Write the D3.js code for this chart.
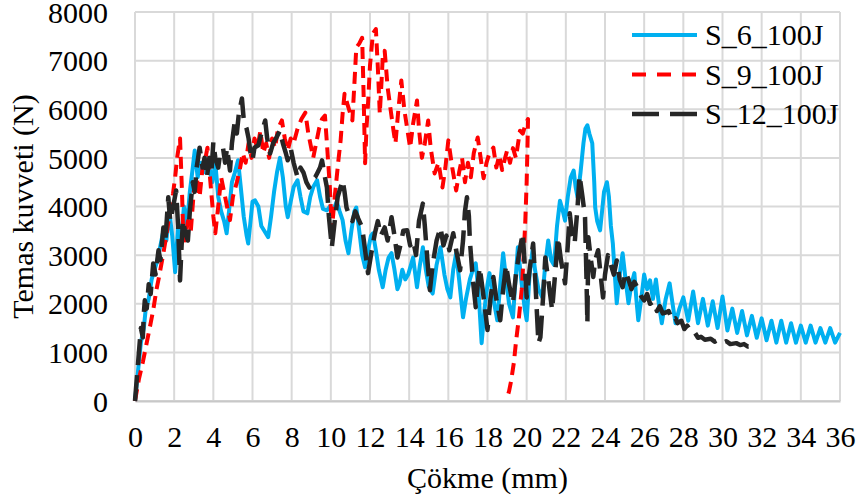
<!DOCTYPE html>
<html>
<head>
<meta charset="utf-8">
<script src="https://cdn.jsdelivr.net/npm/d3@7"></script>
<style>
  html, body { margin: 0; padding: 0; background: #fff; }
  svg { display: block; }
  text { font-family: "Liberation Serif", "Times New Roman", serif; fill: #000; }
</style>
</head>
<body>
<svg id="chart" width="859" height="503"></svg>
<script>
// Contact force vs. displacement for three specimens, 100 J impact
const seriesNames = ["S_6_100J", "S_9_100J", "S_12_100J"];
const xTicks = d3.range(0, 37, 2);
const yTicks = d3.range(0, 8001, 1000);

// [displacement (mm), force (N)]
const s6 = [
  [0,0],[0.15,600],[0.3,1200],[0.45,1500],[0.55,1900],[0.7,2100],[0.85,2500],[1.0,2700],[1.15,2900],[1.3,3200],
  [1.45,3500],[1.6,3300],[1.75,3900],[1.9,3400],[2.05,2650],[2.2,3600],[2.35,3300],[2.5,4000],[2.65,3600],[2.8,4300],
  [2.95,4800],[3.05,5150],[3.2,4600],[3.35,4900],[3.5,4700],[3.65,5000],[3.8,4800],[3.95,4500],[4.1,4900],[4.25,4200],
  [4.4,3900],[4.55,3700],[4.68,3450],[4.8,3900],[4.95,4500],[5.1,4700],[5.26,4950],[5.4,4400],[5.55,3800],[5.7,3400],
  [5.78,3240],[5.9,3700],[6.0,4100],[6.13,4125],[6.3,4000],[6.45,3600],[6.6,3500],[6.8,3370],[6.95,3800],[7.1,4300],
  [7.25,4700],[7.4,5000],[7.55,4600],[7.7,4000],[7.8,3780],[7.95,4100],[8.1,4400],[8.3,4540],[8.45,4200],[8.6,3900],
  [8.8,3860],[8.95,4200],[9.1,4400],[9.3,4540],[9.45,4200],[9.6,3950],[9.8,3920],[9.95,4000],[10.1,3900],[10.3,4100],
  [10.45,3900],[10.6,3720],[10.75,3300],[10.9,3040],[11.05,3500],[11.2,3900],[11.3,3980],[11.45,3500],[11.6,3000],[11.75,2750],
  [11.9,3100],[12.05,3400],[12.15,3450],[12.3,3100],[12.45,2700],[12.65,2340],[12.8,2700],[12.95,2950],[13.1,3040],[13.25,2700],
  [13.4,2300],[13.5,2400],[13.65,2700],[13.8,2500],[13.95,2600],[14.2,2950],[14.4,2340],[14.55,2800],[14.7,3160],[14.85,2700],
  [15.0,2350],[15.2,2210],[15.4,2800],[15.6,3160],[15.8,2600],[15.95,2300],[16.1,2130],[16.25,2700],[16.4,3040],[16.55,2500],
  [16.75,1720],[16.9,2100],[17.1,2500],[17.25,2700],[17.4,2830],[17.55,2200],[17.7,1190],[17.85,1900],[18.0,2400],[18.1,2630],
  [18.3,2100],[18.5,1660],[18.65,2400],[18.8,3040],[18.95,2500],[19.1,2000],[19.3,1720],[19.45,2600],[19.55,3160],[19.75,2400],
  [19.9,1900],[20.0,1660],[20.15,2600],[20.3,3100],[20.43,2690],[20.6,2300],[20.8,2130],[20.95,2800],[21.1,3300],[21.25,2900],
  [21.4,2800],[21.55,3600],[21.7,4120],[21.85,3900],[21.96,3710],[22.1,4200],[22.25,4600],[22.4,4740],[22.5,4400],[22.6,4190],
  [22.75,4700],[22.9,5300],[23.0,5600],[23.1,5670],[23.2,5500],[23.35,5300],[23.45,4500],[23.5,3980],[23.6,3700],[23.75,3510],
  [23.85,3900],[23.95,4300],[24.1,4500],[24.2,4200],[24.3,3600],[24.4,3240],[24.5,2600],[24.6,2010],[24.75,2600],[24.9,3040],
  [25.05,2500],[25.2,2010],[25.35,2400],[25.5,2630],[25.6,2100],[25.7,1660],[25.85,2100],[26.0,2600],[26.15,2300],[26.3,2480],
  [26.45,2100],[26.6,2500],[26.75,2000],[26.9,1600],[27.1,2100],[27.3,2420],[27.45,2000],[27.6,1600],[27.8,1900],[28.0,2130],
  [28.25,1650],[28.5,2250],[28.75,1600],[29.0,2100],[29.25,1550],[29.5,2050],[29.75,1500],[30.0,2150],[30.25,1450],[30.5,1900],
  [30.75,1400],[31.0,1850],[31.25,1350],[31.5,1750],[31.75,1300],[32.0,1700],[32.25,1250],[32.5,1650],[32.75,1200],[33.0,1650],
  [33.25,1200],[33.5,1600],[33.75,1200],[34.0,1550],[34.25,1200],[34.5,1550],[34.75,1200],[35.0,1500],[35.25,1200],[35.5,1500],
  [35.75,1200],[36.0,1400]
];

const s9 = [
  [0,0],[0.2,450],[0.4,800],[0.6,1200],[0.8,1600],[0.93,1870],[1.1,2300],[1.25,2600],[1.45,3040],[1.6,3400],
  [1.75,3800],[1.94,4260],[2.05,4600],[2.15,5000],[2.3,5400],[2.4,4300],[2.45,3600],[2.55,3300],[2.7,3700],[2.85,3500],
  [3.0,4300],[3.15,4600],[3.3,4200],[3.45,4800],[3.6,5000],[3.7,5210],[3.85,4500],[4.0,3800],[4.1,3450],[4.25,4000],
  [4.4,4600],[4.55,4300],[4.7,4000],[4.85,3720],[5.0,4200],[5.2,4500],[5.36,4780],[5.5,5100],[5.65,4900],[5.8,5300],
  [5.95,5000],[6.1,5400],[6.25,5200],[6.4,5550],[6.55,5100],[6.7,5300],[6.85,5000],[7.0,5400],[7.15,5200],[7.3,5600],
  [7.5,5770],[7.65,5400],[7.8,5150],[7.95,5400],[8.1,5300],[8.3,5600],[8.5,5800],[8.7,5930],[8.85,5500],[9.0,5200],
  [9.1,5000],[9.25,5300],[9.4,5600],[9.55,5800],[9.7,5870],[9.8,5300],[9.95,4390],[10.05,3510],[10.2,4200],[10.3,4600],
  [10.4,5000],[10.5,5360],[10.6,5900],[10.7,6320],[10.85,6100],[11.0,5900],[11.1,5770],[11.2,6500],[11.3,7270],[11.45,7350],
  [11.6,7470],[11.68,6200],[11.75,4890],[11.82,5600],[11.9,6120],[12.0,6900],[12.15,7560],[12.3,7650],[12.4,6860],[12.5,5910],
  [12.58,6500],[12.65,7060],[12.75,7200],[12.9,6450],[13.05,6000],[13.2,5560],[13.3,5300],[13.45,6000],[13.6,6590],[13.75,6000],
  [13.9,5600],[14.05,5210],[14.2,5700],[14.4,6180],[14.5,5600],[14.65,5000],[14.8,5300],[14.97,5770],[15.1,5200],[15.3,4680],
  [15.5,4900],[15.7,4390],[15.85,4800],[16.0,5360],[16.2,4800],[16.4,4330],[16.55,4700],[16.7,5000],[16.85,4500],[17.0,4900],
  [17.15,4600],[17.3,5100],[17.5,5420],[17.65,5000],[17.8,4580],[17.95,4900],[18.1,5100],[18.3,5210],[18.45,4800],[18.6,5050],
  [18.75,4750],[18.9,5000],[19.0,5150],[19.15,4900],[19.3,5200],[19.45,5000],[19.6,5400],[19.66,5560],[19.8,5500],[19.95,5700],
  [20.07,5800],[20.04,5200],[20.0,4500],[19.93,3700],[19.85,3000],[19.75,2300],[19.6,1700],[19.45,1200],[19.35,800],[19.2,400],
  [19.1,200],[19.0,60]
];

const s12 = [
  [0,0],[0.1,500],[0.2,1000],[0.3,1500],[0.4,1310],[0.45,1800],[0.5,2070],[0.6,1900],[0.7,2400],[0.8,2200],
  [0.93,2830],[1.05,2600],[1.2,3100],[1.3,2900],[1.45,3570],[1.55,3300],[1.7,4190],[1.8,3700],[1.95,4000],[2.1,4330],
  [2.2,3600],[2.3,2480],[2.38,3200],[2.45,3720],[2.55,3500],[2.7,3300],[2.8,3900],[2.95,4500],[3.05,4300],[3.15,4800],
  [3.3,5210],[3.45,4800],[3.55,5000],[3.67,4600],[3.8,5000],[3.9,4700],[4.0,5320],[4.1,5000],[4.25,4800],[4.35,5100],
  [4.5,5190],[4.6,4900],[4.7,5200],[4.85,4740],[4.95,5300],[5.1,5770],[5.2,5500],[5.3,5900],[5.46,6220],[5.55,5800],
  [5.6,5700],[5.7,5600],[5.8,5400],[5.9,5100],[6.0,4950],[6.1,5210],[6.3,5260],[6.45,5500],[6.65,5770],[6.75,5400],
  [6.9,5090],[7.05,5300],[7.2,5400],[7.4,5560],[7.55,5300],[7.7,5100],[7.8,4950],[7.95,5200],[8.1,4900],[8.3,4600],
  [8.45,4800],[8.6,4700],[8.75,4500],[8.9,4390],[9.05,4550],[9.2,4600],[9.3,4680],[9.45,4800],[9.55,4950],[9.7,4600],
  [9.8,4390],[9.9,3800],[10.05,3160],[10.2,3700],[10.35,4200],[10.5,4400],[10.6,4540],[10.7,4300],[10.8,3980],[10.95,3800],
  [11.1,3700],[11.25,3900],[11.4,3750],[11.6,3570],[11.75,3100],[11.9,2630],[12.05,3000],[12.25,3450],[12.4,3700],[12.55,3400],
  [12.75,3570],[12.9,3300],[13.1,3780],[13.25,3400],[13.4,2950],[13.55,3200],[13.7,3500],[13.9,3510],[14.05,3200],[14.2,3300],
  [14.35,3000],[14.5,3700],[14.7,4060],[14.8,3600],[14.95,2800],[15.06,2280],[15.2,2800],[15.4,3300],[15.6,3570],[15.75,3200],
  [15.9,3400],[16.05,3100],[16.25,3450],[16.4,3100],[16.6,2690],[16.75,3300],[16.85,3900],[16.95,4190],[17.05,3800],[17.1,3300],
  [17.25,2500],[17.4,1930],[17.5,2400],[17.6,2750],[17.75,2300],[17.9,1800],[18.0,1460],[18.15,2100],[18.3,2550],[18.45,2100],
  [18.65,1660],[18.8,2300],[18.95,2800],[19.1,2400],[19.3,2010],[19.45,2600],[19.6,3000],[19.8,3450],[19.9,2800],[20.0,2130],
  [20.15,2700],[20.33,3240],[20.45,2400],[20.6,1190],[20.7,1310],[20.85,2200],[20.95,2950],[21.1,2500],[21.3,1870],[21.45,2600],
  [21.6,3370],[21.75,2900],[21.96,2420],[22.1,3200],[22.2,3860],[22.3,3500],[22.45,3240],[22.6,4000],[22.7,4640],[22.85,4200],
  [22.98,3780],[23.05,2600],[23.1,1600],[23.15,3370],[23.25,3000],[23.4,2550],[23.5,2900],[23.65,3100],[23.75,2700],[23.9,2130],
  [24.0,2600],[24.15,3000],[24.3,2800],[24.45,2600],[24.6,2890],[24.75,2500],[24.9,2340],[25.05,2650],[25.2,2500],[25.35,2300],
  [25.5,2450],[25.7,2300],[25.85,2150],[26.0,2070],[26.15,2200],[26.3,2000],[26.5,2050],[26.65,1850],[26.8,1950],[26.95,1800],
  [27.1,1820],[27.25,1850],[27.45,1650],[27.6,1700],[27.7,1600],[27.9,1650],[28.05,1480],[28.2,1550],[28.4,1420],[28.55,1430],
  [28.75,1300],[28.9,1320],[29.1,1260],[29.4,1280],[29.6,1220],[29.8,1260],[30.0,1200],[30.2,1230],[30.4,1170],[30.7,1190],
  [30.9,1150],[31.1,1170],[31.3,1120],[31.6,1140],[31.8,1110]
];

const colors = ["#00B0F0", "#FF0000", "#262626"];
const dashes = [null, "12,7", "26,10"];
const widths = [4, 4, 4.5];
const allSeries = [s6, s9, s12];
const fontSize = "30px";

const svg = d3.select("#chart");
const margin = { left: 135, right: 19, top: 12, bottom: 102 };
const W = 859, H = 503;
const iw = W - margin.left - margin.right;
const ih = H - margin.top - margin.bottom;

const x = d3.scaleLinear().domain([0, 36]).range([0, iw]);
const y = d3.scaleLinear().domain([0, 8000]).range([ih, 0]);

const g = svg.append("g").attr("transform", `translate(${margin.left},${margin.top})`);

// gridlines
g.append("g").selectAll("line").data(yTicks).join("line")
  .attr("x1", 0).attr("x2", iw)
  .attr("y1", d => y(d)).attr("y2", d => y(d))
  .attr("stroke", "#d9d9d9").attr("stroke-width", 2);
g.append("g").selectAll("line").data(xTicks).join("line")
  .attr("x1", d => x(d)).attr("x2", d => x(d))
  .attr("y1", 0).attr("y2", ih)
  .attr("stroke", "#d9d9d9").attr("stroke-width", 2);

// axes (labels only; gridlines carry the lines)
const xAxis = g.append("g").attr("transform", `translate(0,${ih})`)
  .call(d3.axisBottom(x).tickValues(xTicks).tickSize(0).tickPadding(0));
xAxis.select(".domain").attr("stroke", "#c8c8c8").attr("stroke-width", 2);
xAxis.selectAll("text").attr("y", 46).attr("dy", 0)
  .style("font-size", fontSize).style("font-family", "Liberation Serif").attr("fill", "#000");

const yAxis = g.append("g")
  .call(d3.axisLeft(y).tickValues(yTicks).tickSize(0).tickPadding(0).tickFormat(d3.format("d")));
yAxis.select(".domain").remove();
yAxis.selectAll("text").attr("x", -27).attr("dy", "0.34em")
  .style("font-size", fontSize).style("font-family", "Liberation Serif").attr("fill", "#000");

// series
const line = d3.line().x(d => x(d[0])).y(d => y(d[1]));
allSeries.forEach((s, i) => {
  g.append("path").datum(s)
    .attr("d", line)
    .attr("fill", "none")
    .attr("stroke", colors[i])
    .attr("stroke-width", widths[i])
    .attr("stroke-linejoin", "round")
    .attr("stroke-dasharray", dashes[i]);
});

// axis titles
svg.append("text")
  .attr("x", margin.left + iw / 2).attr("y", 488)
  .attr("text-anchor", "middle")
  .style("font-size", fontSize)
  .text("Çökme (mm)");
svg.append("text")
  .attr("transform", `translate(33,${margin.top + ih / 2}) rotate(-90)`)
  .attr("text-anchor", "middle")
  .style("font-size", fontSize)
  .text("Temas kuvveti (N)");

// legend
const legend = svg.append("g").attr("transform", "translate(632,35)");
seriesNames.forEach((name, i) => {
  const row = legend.append("g").attr("transform", `translate(0,${i * 39.5})`);
  row.append("line").attr("x1", 0).attr("x2", 65).attr("y1", 0).attr("y2", 0)
    .attr("stroke", colors[i]).attr("stroke-width", widths[i])
    .attr("stroke-dasharray", i === 1 ? "14,11" : (i === 2 ? "27,11" : null));
  row.append("text").attr("x", 73).attr("y", 10)
    .style("font-size", fontSize).text(name);
});
</script>
</body>
</html>
